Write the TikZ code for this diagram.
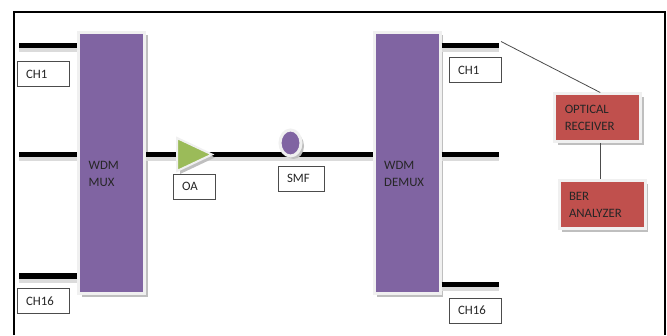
\documentclass[tikz,border=0pt]{standalone}
\usepackage{fontspec}
\setmainfont{Carlito}
\usetikzlibrary{shadows,shapes.geometric}
\definecolor{wdmpurple}{HTML}{8064A2}
\definecolor{rxred}{HTML}{C0504D}
\definecolor{ampgreen}{HTML}{9BBB59}
\tikzset{every node/.style={font=\fontsize{12.8}{17.5}\selectfont,text=black!85},
  softshadow/.style={drop shadow={shadow xshift=3pt,shadow yshift=-3pt,fill=black!25,opacity=1}},
  wdmbox/.style={rectangle,draw=white!94!black,line width=3pt,fill=wdmpurple,softshadow,
    minimum width=66pt,minimum height=261pt,inner sep=0pt},
  rxbox/.style={rectangle,draw=white!94!black,line width=3pt,fill=rxred,softshadow,align=left,
    minimum height=48pt,text width=66pt,inner xsep=10pt,inner ysep=0pt},
  tagbox/.style={rectangle,draw=black!70,line width=0.8pt,fill=white,align=left,
    minimum height=25pt,text width=35pt,inner xsep=8.5pt,inner ysep=0pt},
  boxtext/.style={anchor=west,align=left,inner sep=0pt},
  fibre/.style={draw=black,line width=5pt,
    preaction={draw=black!14,line width=5pt,transform canvas={yshift=-4pt}}},
  wire/.style={draw=black!70,line width=0.8pt}}

\begin{document}
\begin{tikzpicture}[x=1pt,y=1pt]
  \path[use as bounding box,fill=white] (0,0) rectangle (667,335);
  \draw[line width=2pt] (14,0) -- (14,323) -- (665,323) -- (665,0);
  % free ends of the fibres
  \coordinate (inA) at (19,289.5);
  \coordinate (inB) at (19,180.5);
  \coordinate (inC) at (19,59);
  \coordinate (outA) at (499,289.5);
  \coordinate (outB) at (499,180.5);
  \coordinate (outC) at (499,51);
  \node[wdmbox] (mux) at (111.5,172) {};
  \node[wdmbox] (demux) at (407,172) {};
  \node[boxtext] (muxtext) at (88.5,161) {WDM\\MUX};
  \node[boxtext] (demuxtext) at (384,161) {WDM\\DEMUX};
  \draw[fibre] (inA) -- (inA -| mux.west);
  \draw[fibre] (inB) -- (inB -| mux.west);
  \draw[fibre] (inC) -- (inC -| mux.west);
  \draw[fibre] (mux.east |- inB) -- (demux.west |- inB);
  \draw[fibre] (demux.east |- outA) -- (outA);
  \draw[fibre] (demux.east |- outB) -- (outB);
  \draw[fibre] (demux.east |- outC) -- (outC);
  \node[isosceles triangle,isosceles triangle apex angle=55,isosceles triangle stretches,
    minimum width=33pt,minimum height=35pt,inner sep=0pt,fill=ampgreen,draw=white!94!black,
    line width=2pt,softshadow,anchor=west] (amp) at (176,180.5) {};
  \node[ellipse,minimum width=21pt,minimum height=26pt,inner sep=0pt,fill=wdmpurple,
    draw=white!94!black,line width=3pt,softshadow] (smf) at (290.5,192) {};
  \node[tagbox] (chA) at (43.5,261) {CH1};
  \node[tagbox] (chB) at (43.5,34) {CH16};
  \node[tagbox] (chC) at (475.5,265) {CH1};
  \node[tagbox] (chD) at (475.5,24.5) {CH16};
  \node[tagbox,text width=25pt] (oa) at (194.5,148.5) {OA};
  \node[tagbox,text width=28.5pt] (smftag) at (301.25,156.5) {SMF};
  \node[rxbox] (rx) at (597.75,217) {OPTICAL\\RECEIVER};
  \node[rxbox] (ber) at (602,130) {BER\\ANALYZER};
  \coordinate (rxtop) at ([xshift=2.5pt]rx.north);
  \coordinate (rxbot) at ([xshift=2.5pt]rx.south);
  \draw[wire] (outA) ++(2,4) coordinate (wireA) -- (rxtop);
  \draw[wire] (rxbot) -- (ber.north -| rxbot);
\end{tikzpicture}
\end{document}
